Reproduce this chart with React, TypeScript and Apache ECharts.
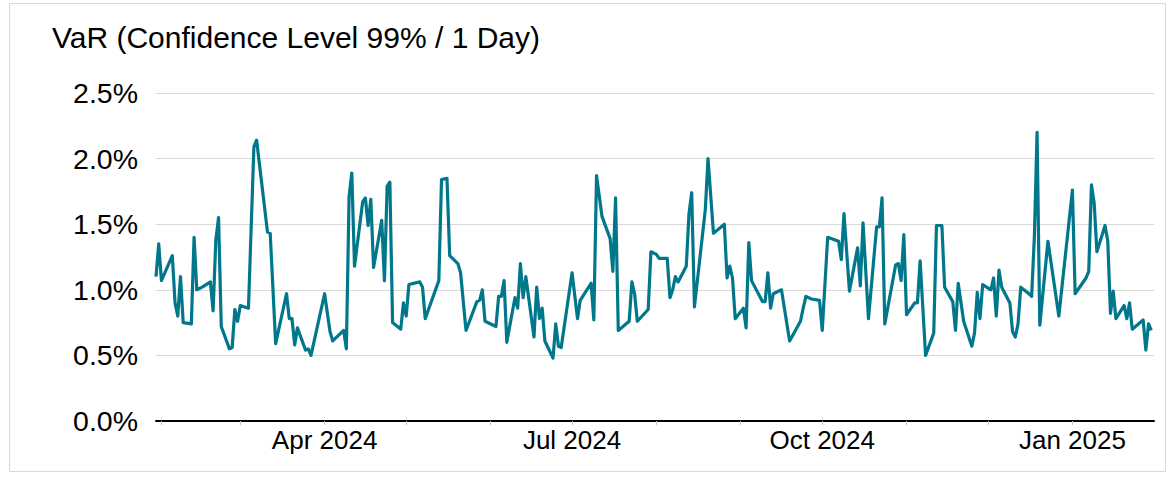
import React, { useEffect, useRef } from 'react';
import * as echarts from 'echarts';

const dates: string[] = [
  '2024-01-30', '2024-01-31', '2024-02-01', '2024-02-05', '2024-02-06', '2024-02-07', '2024-02-08', '2024-02-09',
  '2024-02-12', '2024-02-13', '2024-02-14', '2024-02-16', '2024-02-19', '2024-02-20', '2024-02-21', '2024-02-22',
  '2024-02-23', '2024-02-26', '2024-02-27', '2024-02-28', '2024-02-29', '2024-03-01', '2024-03-04', '2024-03-06',
  '2024-03-07', '2024-03-11', '2024-03-12', '2024-03-14', '2024-03-18', '2024-03-19', '2024-03-20', '2024-03-21',
  '2024-03-22', '2024-03-25', '2024-03-26', '2024-03-27', '2024-04-01', '2024-04-03', '2024-04-04', '2024-04-08',
  '2024-04-09', '2024-04-10', '2024-04-11', '2024-04-12', '2024-04-15', '2024-04-16', '2024-04-17', '2024-04-18',
  '2024-04-19', '2024-04-22', '2024-04-23', '2024-04-24', '2024-04-25', '2024-04-26', '2024-04-29', '2024-04-30',
  '2024-05-01', '2024-05-02', '2024-05-06', '2024-05-07', '2024-05-08', '2024-05-13', '2024-05-14', '2024-05-16',
  '2024-05-17', '2024-05-20', '2024-05-21', '2024-05-23', '2024-05-27', '2024-05-28', '2024-05-29', '2024-05-30',
  '2024-06-03', '2024-06-04', '2024-06-05', '2024-06-06', '2024-06-07', '2024-06-10', '2024-06-11', '2024-06-12',
  '2024-06-13', '2024-06-14', '2024-06-17', '2024-06-18', '2024-06-19', '2024-06-20', '2024-06-21', '2024-06-24',
  '2024-06-25', '2024-06-26', '2024-06-27', '2024-07-01', '2024-07-03', '2024-07-04', '2024-07-08', '2024-07-09',
  '2024-07-10', '2024-07-12', '2024-07-15', '2024-07-16', '2024-07-17', '2024-07-18', '2024-07-22', '2024-07-23',
  '2024-07-24', '2024-07-25', '2024-07-29', '2024-07-30', '2024-08-01', '2024-08-02', '2024-08-05', '2024-08-06',
  '2024-08-07', '2024-08-08', '2024-08-09', '2024-08-12', '2024-08-13', '2024-08-14', '2024-08-15', '2024-08-19',
  '2024-08-20', '2024-08-22', '2024-08-26', '2024-08-27', '2024-08-28', '2024-08-29', '2024-08-30', '2024-09-02',
  '2024-09-03', '2024-09-04', '2024-09-05', '2024-09-09', '2024-09-10', '2024-09-11', '2024-09-12', '2024-09-13',
  '2024-09-16', '2024-09-17', '2024-09-18', '2024-09-19', '2024-09-23', '2024-09-24', '2024-09-25', '2024-09-27',
  '2024-09-30', '2024-10-01', '2024-10-03', '2024-10-07', '2024-10-08', '2024-10-09', '2024-10-11', '2024-10-14',
  '2024-10-15', '2024-10-16', '2024-10-18', '2024-10-21', '2024-10-22', '2024-10-23', '2024-10-24', '2024-10-28',
  '2024-10-29', '2024-10-30', '2024-10-31', '2024-11-01', '2024-11-04', '2024-11-05', '2024-11-06', '2024-11-08',
  '2024-11-11', '2024-11-12', '2024-11-14', '2024-11-15', '2024-11-18', '2024-11-19', '2024-11-20', '2024-11-22',
  '2024-11-25', '2024-11-26', '2024-11-27', '2024-11-28', '2024-11-29', '2024-12-02', '2024-12-03', '2024-12-04',
  '2024-12-05', '2024-12-06', '2024-12-09', '2024-12-10', '2024-12-11', '2024-12-12', '2024-12-13', '2024-12-16',
  '2024-12-17', '2024-12-18', '2024-12-19', '2024-12-20', '2024-12-23', '2024-12-27', '2025-01-01', '2025-01-02',
  '2025-01-06', '2025-01-07', '2025-01-08', '2025-01-09', '2025-01-10', '2025-01-13', '2025-01-14', '2025-01-15',
  '2025-01-16', '2025-01-17', '2025-01-20', '2025-01-21', '2025-01-22', '2025-01-23', '2025-01-27', '2025-01-28',
  '2025-01-29', '2025-01-30',
];

const varValues: number[] = [
  1.10, 1.35, 1.07, 1.26, 0.90, 0.80, 1.10, 0.75,
  0.74, 1.40, 1.00, 1.02, 1.06, 0.84, 1.38, 1.55,
  0.72, 0.55, 0.56, 0.85, 0.76, 0.88, 0.86, 2.09,
  2.14, 1.44, 1.43, 0.59, 0.97, 0.78, 0.78, 0.58,
  0.71, 0.54, 0.55, 0.50, 0.97, 0.68, 0.61, 0.69,
  0.55, 1.71, 1.89, 1.18, 1.67, 1.70, 1.49, 1.69,
  1.17, 1.53, 1.07, 1.79, 1.82, 0.75, 0.70, 0.90,
  0.80, 1.04, 1.06, 1.02, 0.78, 1.07, 1.84, 1.85,
  1.26, 1.20, 1.13, 0.69, 0.91, 0.92, 1.00, 0.76,
  0.72, 0.95, 0.95, 1.07, 0.60, 0.94, 0.86, 1.20,
  0.94, 1.10, 0.64, 1.02, 0.78, 0.86, 0.61, 0.48,
  0.74, 0.57, 0.56, 1.13, 0.78, 0.92, 1.05, 0.77,
  1.87, 1.56, 1.39, 1.14, 1.70, 0.69, 0.76, 1.06,
  0.97, 0.76, 0.85, 1.29, 1.27, 1.24, 1.24, 0.94,
  1.00, 1.10, 1.06, 1.18, 1.58, 1.74, 0.87, 1.61,
  2.00, 1.43, 1.50, 1.09, 1.18, 1.09, 0.78, 0.86,
  0.71, 1.36, 1.07, 0.91, 0.91, 1.13, 0.86, 0.97,
  1.00, 0.87, 0.74, 0.61, 0.76, 0.86, 0.95, 0.93,
  0.92, 0.69, 1.40, 1.37, 1.23, 1.58, 0.99, 1.32,
  1.03, 1.51, 0.78, 1.48, 1.48, 1.70, 0.74, 1.19,
  1.20, 1.07, 1.42, 0.81, 0.90, 0.90, 1.22, 0.50,
  0.67, 1.49, 1.49, 1.02, 0.91, 0.69, 1.05, 0.76,
  0.57, 0.67, 0.98, 0.78, 1.04, 1.00, 1.09, 0.80,
  1.15, 1.02, 0.90, 0.68, 0.64, 0.74, 1.02, 0.97,
  0.95, 1.40, 2.20, 0.73, 1.37, 0.80, 1.76, 0.97,
  1.09, 1.14, 1.80, 1.66, 1.29, 1.49, 1.37, 0.82,
  0.99, 0.78, 0.88, 0.78, 0.90, 0.70, 0.77, 0.54,
  0.74, 0.69,
];

const xMin = '2024-01-30';
const xMax = '2025-01-31';
const labelledMonths = [0, 3, 6, 9];
const monthNames = ['Jan', 'Feb', 'Mar', 'Apr', 'May', 'Jun', 'Jul', 'Aug', 'Sep', 'Oct', 'Nov', 'Dec'];
const yMin = 0;
const yMax = 2.5;
const yStep = 0.5;
const titleText = 'VaR (Confidence Level 99% / 1 Day)';

const FONT = '"Liberation Sans", Arial, Helvetica, sans-serif';

export default function App() {
  const ref = useRef<HTMLDivElement>(null);

  useEffect(() => {
    document.body.style.margin = '0';
    if (!ref.current) return;
    const chart = echarts.init(ref.current, null, { renderer: 'svg' });
    chart.setOption({
      animation: false,
      backgroundColor: '#ffffff',
      textStyle: { fontFamily: FONT },
      title: {
        text: titleText,
        left: 52,
        top: 22,
        padding: 0,
        textStyle: { fontSize: 30, fontWeight: 'normal', color: '#000000', fontFamily: FONT },
      },
      graphic: [
        {
          type: 'rect',
          silent: true,
          z: -10,
          shape: { x: 9.5, y: 3.5, width: 1156, height: 468 },
          style: { fill: 'none', stroke: '#d9d9d9', lineWidth: 1 },
        },
      ],
      grid: { left: 156, right: 20, top: 93, bottom: 56, containLabel: false },
      xAxis: {
        type: 'time',
        min: xMin,
        max: xMax,
        splitNumber: 12,
        axisLine: { show: true, lineStyle: { color: '#000000', width: 2 } },
        axisTick: { show: true, length: 4, lineStyle: { color: '#c8c8c8', width: 1 } },
        splitLine: { show: false },
        axisLabel: {
          color: '#000000',
          fontSize: 26,
          fontFamily: FONT,
          margin: 6,
          hideOverlap: false,
          formatter: (value: number) => {
            const d = new Date(value);
            if (d.getDate() !== 1 || labelledMonths.indexOf(d.getMonth()) < 0) return '';
            return monthNames[d.getMonth()] + ' ' + d.getFullYear();
          },
        },
      },
      yAxis: {
        type: 'value',
        min: yMin,
        max: yMax,
        interval: yStep,
        axisLine: { show: false },
        axisTick: { show: false },
        splitLine: { show: true, lineStyle: { color: '#d9d9d9', width: 1 } },
        axisLabel: {
          color: '#000000',
          fontSize: 28.5,
          fontFamily: FONT,
          margin: 18,
          formatter: (v: number) => v.toFixed(1) + '%',
        },
      },
      series: [
        {
          type: 'line',
          name: 'VaR',
          data: dates.map((d, i) => [d, varValues[i]]),
          showSymbol: false,
          symbol: 'none',
          lineStyle: { color: '#00778a', width: 3.2, join: 'round' },
          itemStyle: { color: '#00778a' },
        },
      ],
    });
    return () => chart.dispose();
  }, []);

  return <div ref={ref} style={{ width: 1174, height: 477 }} />;
}
